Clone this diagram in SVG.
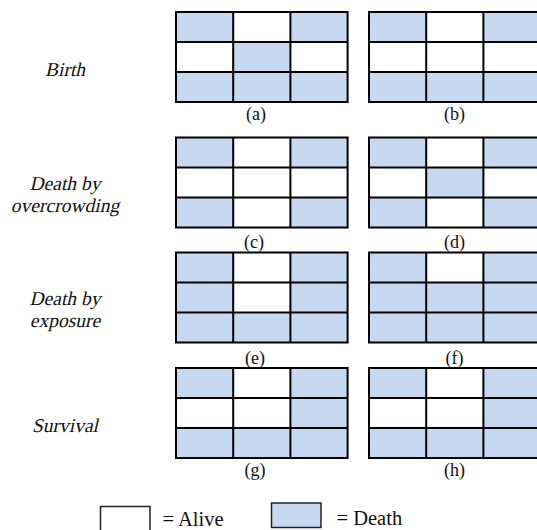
<svg xmlns="http://www.w3.org/2000/svg" xmlns:xlink="http://www.w3.org/1999/xlink" width="537" height="530" viewBox="0 0 537 530">
  <style>
    .d { fill: #C6D9F1; }
    .a { fill: #FFFFFF; }
    .grid { fill: none; stroke: #000; stroke-width: 2; }
    .cap { font-family: "Liberation Serif", "Times New Roman", serif; font-size: 18px; fill: #111; text-anchor: middle; }
    .row { font-family: "Liberation Serif", "Times New Roman", serif; font-size: 19.5px; fill: #111; text-anchor: middle; }
    .leg { font-family: "Liberation Serif", "Times New Roman", serif; font-size: 20.5px; fill: #111; }
    .box { stroke: #222; stroke-width: 1.5; }
  </style>
  <defs>
    <!-- 3x3 grid lines, cells 57.2 x 30 -->
    <path id="lines" class="grid" d="M0,0H171.6V90H0Z M57.2,0V90 M114.4,0V90 M0,30H171.6 M0,60H171.6"/>
  </defs>
  <rect width="537" height="530" fill="#fff"/>

  <!-- row labels (slanted serif) -->
  <g id="label-birth">
    <g transform="translate(65,76) skewX(-13)"><text class="row" x="0" y="0">Birth</text></g>
  </g>
  <g id="label-overcrowding">
    <g transform="translate(65,190) skewX(-13)"><text class="row" x="0" y="0">Death by</text></g>
    <g transform="translate(65,211.5) skewX(-13)"><text class="row" x="0" y="0">overcrowding</text></g>
  </g>
  <g id="label-exposure">
    <g transform="translate(65,305) skewX(-13)"><text class="row" x="0" y="0">Death by</text></g>
    <g transform="translate(65,326.5) skewX(-13)"><text class="row" x="0" y="0">exposure</text></g>
  </g>
  <g id="label-survival">
    <g transform="translate(65,431.5) skewX(-13)"><text class="row" x="0" y="0">Survival</text></g>
  </g>

  <!-- (a) -->
  <g id="grid-a" transform="translate(176,12)">
    <rect class="d" x="0" y="0" width="57.2" height="30"/><rect class="a" x="57.2" y="0" width="57.2" height="30"/><rect class="d" x="114.4" y="0" width="57.2" height="30"/>
    <rect class="a" x="0" y="30" width="57.2" height="30"/><rect class="d" x="57.2" y="30" width="57.2" height="30"/><rect class="a" x="114.4" y="30" width="57.2" height="30"/>
    <rect class="d" x="0" y="60" width="57.2" height="30"/><rect class="d" x="57.2" y="60" width="57.2" height="30"/><rect class="d" x="114.4" y="60" width="57.2" height="30"/>
    <use xlink:href="#lines"/>
    <text class="cap" x="80" y="108">(a)</text>
  </g>
  <!-- (b) -->
  <g id="grid-b" transform="translate(369,12)">
    <rect class="d" x="0" y="0" width="57.2" height="30"/><rect class="a" x="57.2" y="0" width="57.2" height="30"/><rect class="d" x="114.4" y="0" width="57.2" height="30"/>
    <rect class="a" x="0" y="30" width="57.2" height="30"/><rect class="a" x="57.2" y="30" width="57.2" height="30"/><rect class="a" x="114.4" y="30" width="57.2" height="30"/>
    <rect class="d" x="0" y="60" width="57.2" height="30"/><rect class="d" x="57.2" y="60" width="57.2" height="30"/><rect class="d" x="114.4" y="60" width="57.2" height="30"/>
    <use xlink:href="#lines"/>
    <text class="cap" x="85.5" y="108">(b)</text>
  </g>

  <!-- (c) -->
  <g id="grid-c" transform="translate(176,137.5)">
    <rect class="d" x="0" y="0" width="57.2" height="30"/><rect class="a" x="57.2" y="0" width="57.2" height="30"/><rect class="d" x="114.4" y="0" width="57.2" height="30"/>
    <rect class="a" x="0" y="30" width="57.2" height="30"/><rect class="a" x="57.2" y="30" width="57.2" height="30"/><rect class="a" x="114.4" y="30" width="57.2" height="30"/>
    <rect class="d" x="0" y="60" width="57.2" height="30"/><rect class="a" x="57.2" y="60" width="57.2" height="30"/><rect class="d" x="114.4" y="60" width="57.2" height="30"/>
    <use xlink:href="#lines"/>
    <text class="cap" x="78" y="110.5">(c)</text>
  </g>
  <!-- (d) -->
  <g id="grid-d" transform="translate(369,137.5)">
    <rect class="d" x="0" y="0" width="57.2" height="30"/><rect class="a" x="57.2" y="0" width="57.2" height="30"/><rect class="d" x="114.4" y="0" width="57.2" height="30"/>
    <rect class="a" x="0" y="30" width="57.2" height="30"/><rect class="d" x="57.2" y="30" width="57.2" height="30"/><rect class="a" x="114.4" y="30" width="57.2" height="30"/>
    <rect class="d" x="0" y="60" width="57.2" height="30"/><rect class="a" x="57.2" y="60" width="57.2" height="30"/><rect class="d" x="114.4" y="60" width="57.2" height="30"/>
    <use xlink:href="#lines"/>
    <text class="cap" x="85.5" y="110.5">(d)</text>
  </g>

  <!-- (e) -->
  <g id="grid-e" transform="translate(176,252.5)">
    <rect class="d" x="0" y="0" width="57.2" height="30"/><rect class="a" x="57.2" y="0" width="57.2" height="30"/><rect class="d" x="114.4" y="0" width="57.2" height="30"/>
    <rect class="d" x="0" y="30" width="57.2" height="30"/><rect class="a" x="57.2" y="30" width="57.2" height="30"/><rect class="d" x="114.4" y="30" width="57.2" height="30"/>
    <rect class="d" x="0" y="60" width="57.2" height="30"/><rect class="d" x="57.2" y="60" width="57.2" height="30"/><rect class="d" x="114.4" y="60" width="57.2" height="30"/>
    <use xlink:href="#lines"/>
    <text class="cap" x="79" y="111">(e)</text>
  </g>
  <!-- (f) -->
  <g id="grid-f" transform="translate(369,252.5)">
    <rect class="d" x="0" y="0" width="57.2" height="30"/><rect class="a" x="57.2" y="0" width="57.2" height="30"/><rect class="d" x="114.4" y="0" width="57.2" height="30"/>
    <rect class="d" x="0" y="30" width="57.2" height="30"/><rect class="d" x="57.2" y="30" width="57.2" height="30"/><rect class="d" x="114.4" y="30" width="57.2" height="30"/>
    <rect class="d" x="0" y="60" width="57.2" height="30"/><rect class="d" x="57.2" y="60" width="57.2" height="30"/><rect class="d" x="114.4" y="60" width="57.2" height="30"/>
    <use xlink:href="#lines"/>
    <text class="cap" x="85.5" y="111">(f)</text>
  </g>

  <!-- (g) -->
  <g id="grid-g" transform="translate(176,368)">
    <rect class="d" x="0" y="0" width="57.2" height="30"/><rect class="a" x="57.2" y="0" width="57.2" height="30"/><rect class="d" x="114.4" y="0" width="57.2" height="30"/>
    <rect class="a" x="0" y="30" width="57.2" height="30"/><rect class="a" x="57.2" y="30" width="57.2" height="30"/><rect class="d" x="114.4" y="30" width="57.2" height="30"/>
    <rect class="d" x="0" y="60" width="57.2" height="30"/><rect class="d" x="57.2" y="60" width="57.2" height="30"/><rect class="d" x="114.4" y="60" width="57.2" height="30"/>
    <use xlink:href="#lines"/>
    <text class="cap" x="79" y="108">(g)</text>
  </g>
  <!-- (h) -->
  <g id="grid-h" transform="translate(369,368)">
    <rect class="d" x="0" y="0" width="57.2" height="30"/><rect class="a" x="57.2" y="0" width="57.2" height="30"/><rect class="d" x="114.4" y="0" width="57.2" height="30"/>
    <rect class="a" x="0" y="30" width="57.2" height="30"/><rect class="a" x="57.2" y="30" width="57.2" height="30"/><rect class="d" x="114.4" y="30" width="57.2" height="30"/>
    <rect class="d" x="0" y="60" width="57.2" height="30"/><rect class="d" x="57.2" y="60" width="57.2" height="30"/><rect class="d" x="114.4" y="60" width="57.2" height="30"/>
    <use xlink:href="#lines"/>
    <text class="cap" x="85.5" y="108">(h)</text>
  </g>

  <!-- legend -->
  <g id="legend-alive">
    <rect class="a box" x="100.5" y="506.5" width="49.5" height="26"/>
    <text class="leg" x="162.5" y="526">= Alive</text>
  </g>
  <g id="legend-death">
    <rect class="d box" x="271.5" y="503" width="49.5" height="24.5"/>
    <text class="leg" x="336.5" y="525">= Death</text>
  </g>
</svg>
